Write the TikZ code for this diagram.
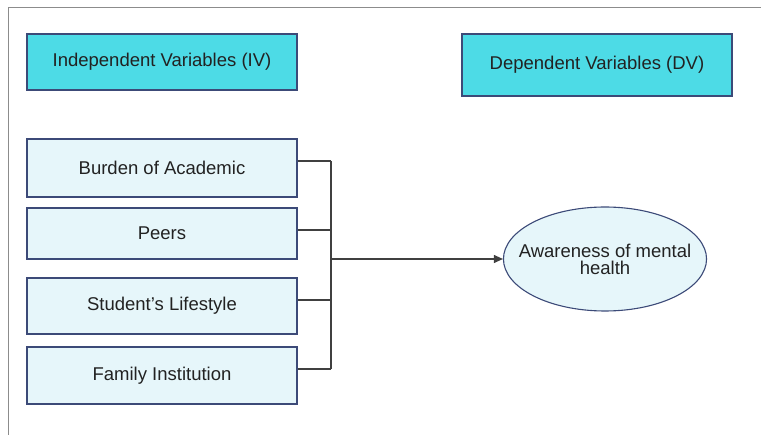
\documentclass[tikz,border=0pt]{standalone}
\usepackage{fontspec}
\setmainfont{Liberation Sans}
\usetikzlibrary{positioning,arrows.meta,shapes.geometric}

\definecolor{headcyan}{HTML}{4DDBE6}
\definecolor{boxblue}{HTML}{E6F6FA}
\definecolor{edgeblue}{HTML}{3C4A78}
\definecolor{linegrey}{HTML}{404040}
\definecolor{framegrey}{HTML}{8C8C8C}
\definecolor{textgrey}{HTML}{222222}

\tikzset{
	vartext/.style={text=textgrey, font=\fontsize{18.5}{17}\selectfont, inner sep=0pt},
	varhead/.style={vartext, draw=edgeblue, fill=headcyan, line width=1.1pt, minimum width=270pt},
	ivbox/.style={vartext, draw=edgeblue, fill=boxblue, line width=1.1pt, minimum width=270pt},
	dvoval/.style={vartext, ellipse, draw=edgeblue, fill=boxblue, line width=1.1pt, align=center, inner xsep=-14.4pt, inner ysep=0pt},
	link/.style={draw=linegrey, line width=1.1pt}
}

\begin{document}
\begin{tikzpicture}[x=1pt,y=-1pt]

	\useasboundingbox (0,0) rectangle (761,435);
	\draw[framegrey, line width=1pt] (8,435) -- (8,8) -- (761,8);

	% headings
	\node[varhead, minimum height=56pt] (ivhead) at (162,62) {Independent Variables (IV)};
	\node[varhead, minimum height=62pt] (dvhead) at (597,65) {Dependent Variables (DV)};

	% independent variables
	\node[ivbox, minimum height=58pt] (burden) at (162,168) {Burden of Academic};
	\node[ivbox, minimum height=51pt] (peers) at (162,233.5) {Peers};
	\node[ivbox, minimum height=56pt] (life) at (162,306) {Student’s Lifestyle};
	\node[ivbox, minimum height=57pt] (family) at (162,375.5) {Family Institution};

	% dependent variable
	\node[dvoval, minimum height=104pt] (aware) at (605,259) {Awareness of mental\\health};

	% connectors
	\coordinate (b1) at (331,161);
	\coordinate (b2) at (331,230);
	\coordinate (b3) at (331,300);
	\coordinate (b4) at (331,369);
	\coordinate (hub) at (331,259);

	\draw[link] (burden.east |- b1) -- (b1);
	\draw[link] (peers.east |- b2) -- (b2);
	\draw[link] (life.east |- b3) -- (b3);
	\draw[link] (family.east |- b4) -- (b4);
	\draw[link] (b1) -- (b4);
	\draw[link, -{Triangle[length=9pt,width=8pt]}] (hub) -- (aware.west);

\end{tikzpicture}
\end{document}
